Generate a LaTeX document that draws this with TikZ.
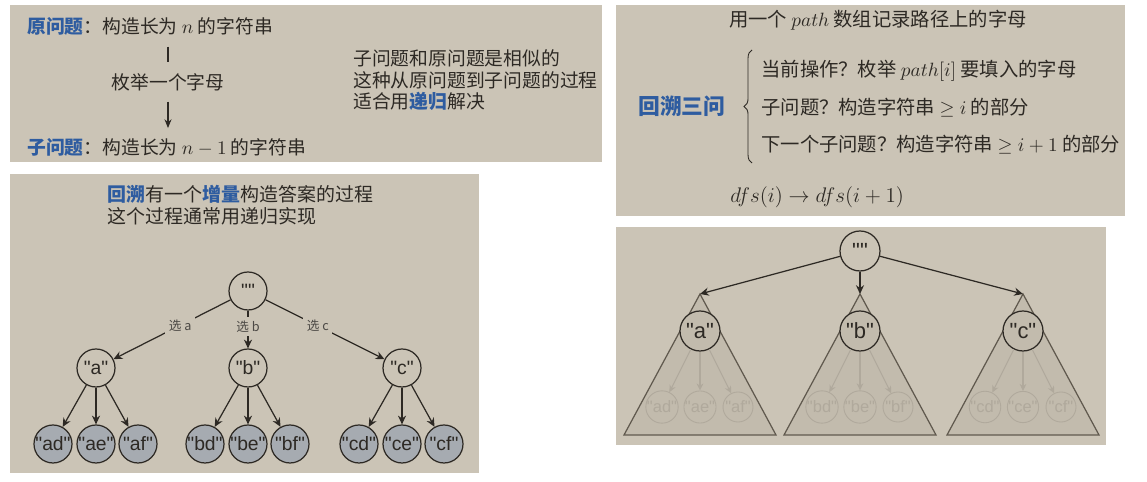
\documentclass[tikz,border=0pt]{standalone}
\usepackage[no-math]{fontspec}
\setmainfont{Noto Sans CJK SC}
\newfontfamily\treefont{Liberation Sans}
\usepackage{tikz}
\usetikzlibrary{arrows.meta,decorations.pathreplacing}

\definecolor{panelbg}{RGB}{203,196,182}
\definecolor{hl}{RGB}{46,92,160}
\definecolor{ink}{RGB}{45,41,36}
\definecolor{leaffill}{RGB}{166,171,177}
\definecolor{fade}{RGB}{176,169,156}
\definecolor{trifill}{RGB}{194,187,173}
\definecolor{triline}{RGB}{96,89,78}
\newcommand{\hlt}[1]{\textcolor{hl}{\bfseries #1}}

\begin{document}
\begin{tikzpicture}[x=0.02cm,y=-0.02cm,
  panel/.style={fill=panelbg,draw=none},
  txt/.style={inner sep=0pt,text=ink,font=\fontsize{10.7}{12.2}\selectfont},
  txtb/.style={inner sep=0pt,text=ink,font=\fontsize{11}{13}\selectfont},
  conn/.style={draw=ink,line width=0.6pt},
  vtx/.style={circle,draw=ink,line width=0.7pt,fill=panelbg,minimum size=0.76cm,inner sep=0pt,
    text=ink,font=\treefont\fontsize{11}{12}\selectfont},
  leaf/.style={vtx,fill=leaffill},
  tedge/.style={draw=ink,line width=0.7pt,-{Stealth[length=5pt,width=4.6pt]}},
  choice/.style={fill=panelbg,inner sep=2pt,text=ink!85,font=\fontsize{7.2}{8}\selectfont},
  vtxf/.style={vtx,fill=trifill,minimum size=0.8cm,font=\treefont\fontsize{12.5}{13}\selectfont},
  leaff/.style={circle,draw=fade,line width=0.5pt,minimum size=0.6cm,inner sep=0pt,
    text=fade,font=\treefont\fontsize{9.4}{10}\selectfont},
  fedge/.style={draw=fade,line width=0.6pt,-{Stealth[length=4pt,width=3.8pt]}},
  tri/.style={fill=trifill,draw=triline,line width=0.7pt}]
\useasboundingbox (0,0) rectangle (1147,482);
\fill[white] (0,0) rectangle (1147,482);

% panels
\fill[panel] (10,5) rectangle (602,162);
\fill[panel] (616,5) rectangle (1125,216);
\fill[panel] (10,174) rectangle (479,473);
\fill[panel] (616,227) rectangle (1106,445);

% top left
\node[txt,anchor=base west] (orig) at (27,34) {\hlt{原问题}：构造长为 $n$ 的字符串};
\node[txt] (enum) at (168,82) {枚举一个字母};
\node[txt,anchor=base west] (sub) at (27,155) {\hlt{子问题}：构造长为 $n-1$ 的字符串};
\draw[conn,shorten <=6pt,shorten >=6pt] (enum.north |- orig.south) -- (enum.north);
\draw[conn,-{Stealth[length=5pt,width=4pt]},shorten <=6pt,shorten >=6pt] (enum.south) -- (enum.south |- sub.north);
\node[txt,anchor=base west] (sim) at (353,66) {子问题和原问题是相似的};
\node[txt,anchor=base west] (proc) at (353,88) {这种从原问题到子问题的过程};
\node[txt,anchor=base west] (rec) at (353,109) {适合用\hlt{递归}解决};

% top right
\node[txtb,anchor=base] (path) at (878,27) {用一个 $path$ 数组记录路径上的字母};
\node[inner sep=0pt,anchor=base west,font=\fontsize{12.4}{14}\selectfont] (three) at (638,115) {\hlt{回溯三问}};
\node[txtb,anchor=base west] (q1) at (761,77) {当前操作？枚举 $path[i]$ 要填入的字母};
\node[txtb,anchor=base west] (q2) at (761,115) {子问题？构造字符串 $\ge i$ 的部分};
\node[txtb,anchor=base west] (q3) at (761,152) {下一个子问题？构造字符串 $\ge i+1$ 的部分};
\draw[draw=ink,line width=0.5pt,decorate,decoration={brace,amplitude=4.5pt}] (752,163) -- (752,50);
\node[inner sep=0pt,anchor=base west,text=ink,font=\fontsize{13}{15}\selectfont] (dfs) at (730,203) {$dfs(i) \to dfs(i+1)$};

% bottom left
\node[txt,anchor=base west,font=\fontsize{10.8}{12}\selectfont] (inc) at (107,202) {\hlt{回溯}有一个\hlt{增量}构造答案的过程};
\node[txt,anchor=base west,font=\fontsize{10.8}{12}\selectfont] (impl) at (107,224) {这个过程通常用递归实现};
\node[vtx] (root) at (248,291) {""};
\node[vtx] (a) at (96,368) {"a"};
\node[vtx] (b) at (248,368) {"b"};
\node[vtx] (c) at (402,368) {"c"};
\draw[tedge] (root) -- node[choice,pos=0.43] {选 a} (a);
\draw[tedge] (root) -- node[choice,pos=0.42] {选 b} (b);
\draw[tedge] (root) -- node[choice,pos=0.44] {选 c} (c);
\foreach \p/\x in {a/96,b/248,c/402}{
  \node[leaf] (\p d) at (\x-43,444) {"\p d"};
  \node[leaf] (\p e) at (\x,444) {"\p e"};
  \node[leaf] (\p f) at (\x+42,444) {"\p f"};
  \draw[tedge] (\p) -- (\p d);
  \draw[tedge] (\p) -- (\p e);
  \draw[tedge] (\p) -- (\p f);
}

% bottom right
\node[vtxf,fill=panelbg] (rootf) at (860,251) {""};
\foreach \p/\x in {a/700,b/860,c/1023}{
  \coordinate (t\p) at (\x,294);
  \draw[tri] (t\p) -- ++(-76,141) -- ++(152,0) -- cycle;
  \node[vtxf] (\p f) at (\x,331) {"\p"};
  \node[leaff] (\p fd) at (\x-38,407) {"\p d"};
  \node[leaff] (\p fe) at (\x,407) {"\p e"};
  \node[leaff] (\p ff) at (\x+38,407) {"\p f"};
  \draw[fedge] (\p f) -- (\p fd);
  \draw[fedge] (\p f) -- (\p fe);
  \draw[fedge] (\p f) -- (\p ff);
  \draw[tedge] (rootf) -- (t\p);
}
\end{tikzpicture}
\end{document}
